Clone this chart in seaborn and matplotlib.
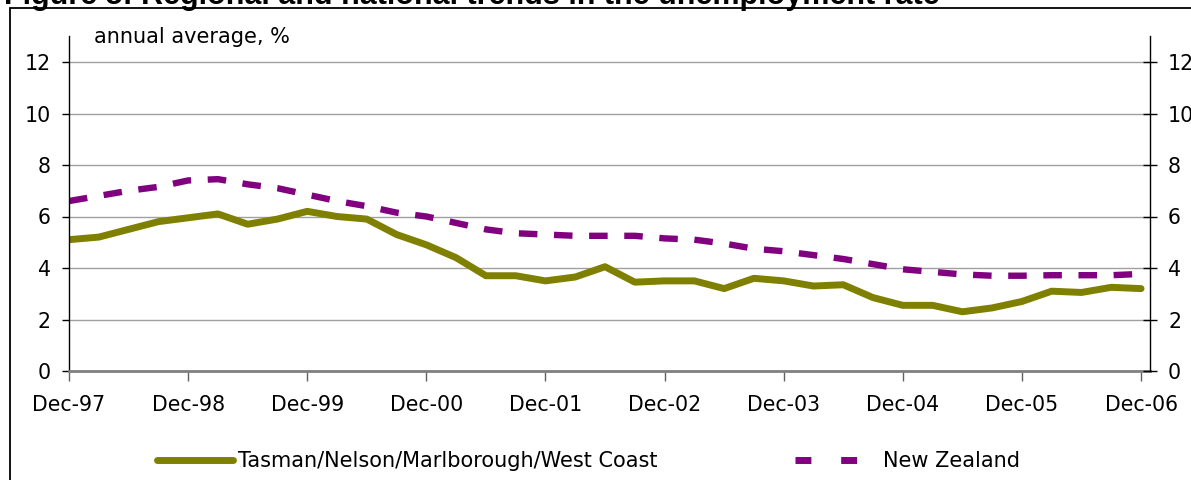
import numpy as np
import pandas as pd
import matplotlib
matplotlib.use("Agg")
import matplotlib.pyplot as plt
from matplotlib.lines import Line2D
from matplotlib.patches import Rectangle
import seaborn as sns

# quarterly, Dec-97 .. Dec-06
quarters = [f"{m}-{y % 100:02d}" for y in range(1997, 2007)
            for m in ["Mar", "Jun", "Sep", "Dec"]][3:]
year_labels = ["Dec-97", "Dec-98", "Dec-99", "Dec-00", "Dec-01",
               "Dec-02", "Dec-03", "Dec-04", "Dec-05", "Dec-06"]

region_name = "Tasman/Nelson/Marlborough/West Coast"
nz_name = "New Zealand"

region_rate = [5.1, 5.2, 5.5, 5.8, 5.95,
               6.1, 5.7, 5.9, 6.2,
               6.0, 5.9, 5.3, 4.9,
               4.4, 3.7, 3.7, 3.5,
               3.65, 4.05, 3.45, 3.5,
               3.5, 3.2, 3.6, 3.5,
               3.3, 3.35, 2.85, 2.55,
               2.55, 2.3, 2.45, 2.7,
               3.1, 3.05, 3.25, 3.2]
nz_rate = [6.6, 6.8, 7.0, 7.15, 7.4,
           7.45, 7.25, 7.1, 6.85,
           6.6, 6.4, 6.15, 6.0,
           5.75, 5.5, 5.35, 5.3,
           5.25, 5.25, 5.25, 5.15,
           5.1, 4.95, 4.75, 4.65,
           4.5, 4.35, 4.15, 3.95,
           3.85, 3.75, 3.7, 3.7,
           3.72, 3.72, 3.72, 3.77]

GREEN = "#808000"
PURPLE = "#800080"

n = len(quarters)
df = pd.DataFrame({
    "q": list(range(n)) * 2,
    "rate": region_rate + nz_rate,
    "series": [region_name] * n + [nz_name] * n,
})

sns.set_theme(style="white")
plt.rcParams['font.family'] = ['DejaVu Sans']
plt.rcParams['text.color'] = 'black'

W, H = 1191, 480
fig = plt.figure(figsize=(W / 100, H / 100), dpi=100)
ax = fig.add_axes([69 / W, 109 / H, (1150 - 69) / W, 334.75 / H])

sns.lineplot(data=df, x="q", y="rate", hue="series", style="series",
             palette={region_name: GREEN, nz_name: PURPLE},
             dashes={region_name: "", nz_name: (2.9, 2.6)},
             linewidth=5, legend=False, ax=ax)
for ln in ax.lines:
    if ln.get_color() == PURPLE:
        ln.set_linewidth(4.6)
        ln.set_dash_capstyle("butt")
    else:
        ln.set_solid_capstyle("round")
        ln.set_solid_joinstyle("round")

ax.set_xlim(0, 36.3)
ax.set_ylim(0, 13)
ax.set_yticks(range(0, 13, 2))
ax.set_xticks(range(0, n, 4))
ax.set_xticklabels(year_labels)
ax.set_xlabel("")
ax.set_ylabel("")
ax.yaxis.grid(True, color="#a0a0a0", lw=1)
ax.set_axisbelow(True)

for s in ["top", "right"]:
    ax.spines[s].set_visible(False)
ax.spines["left"].set_color("black")
ax.spines["left"].set_linewidth(1)
ax.spines["bottom"].set_color("#808080")
ax.spines["bottom"].set_linewidth(2)

ax.tick_params(axis="y", left=True, direction="out", length=5, width=1,
               color="black", labelsize=14.8, pad=8, labelcolor="black")
ax.tick_params(axis="x", bottom=True, direction="out", length=7, width=1,
               color="#606060", labelsize=14.8, pad=10, labelcolor="black")

ax2 = ax.twinx()
ax2.set_ylim(0, 13)
ax2.set_yticks(range(0, 13, 2))
for s in ["top", "left", "bottom"]:
    ax2.spines[s].set_visible(False)
ax2.spines["right"].set_color("black")
ax2.spines["right"].set_linewidth(1)
ax2.tick_params(axis="y", right=True, direction="inout", length=10, width=1,
                color="black", labelsize=14.8, pad=8, labelcolor="black")
ax2.grid(False)

fig.text(94 / W, 1 - 37 / H, "annual average, %", fontsize=15,
         va="center", ha="left")

fig.text(4 / W, 1 - 4 / H, "Figure 5: Regional and national trends in the unemployment rate",
         family="Liberation Sans", fontweight="bold", fontsize=22,
         va="baseline", ha="left")

fig.add_artist(Rectangle((10 / W, -0.5), 2, 0.5 + 1 - 8 / H,
                         transform=fig.transFigure, fill=False,
                         ec="black", lw=1.3))

leg_font = {"family": "DejaVu Sans", "size": 15}
h_reg = Line2D([], [], color=GREEN, lw=5, solid_capstyle="round")
h_nz = Line2D([], [], color=PURPLE, lw=5, dashes=(2.29, 4.29),
              dash_capstyle="butt")
fig.legend(handles=[h_reg], labels=[region_name], prop=leg_font,
           loc="center left", bbox_to_anchor=(157 / W, 1 - 461 / H),
           frameon=False, borderpad=0, borderaxespad=0,
           handlelength=3.65, handletextpad=0.26)
fig.legend(handles=[h_nz], labels=[nz_name], prop=leg_font,
           loc="center left", bbox_to_anchor=(795 / W, 1 - 461 / H),
           frameon=False, borderpad=0, borderaxespad=0,
           handlelength=2.98, handletextpad=1.25)

fig.savefig("out.png", dpi=100)
